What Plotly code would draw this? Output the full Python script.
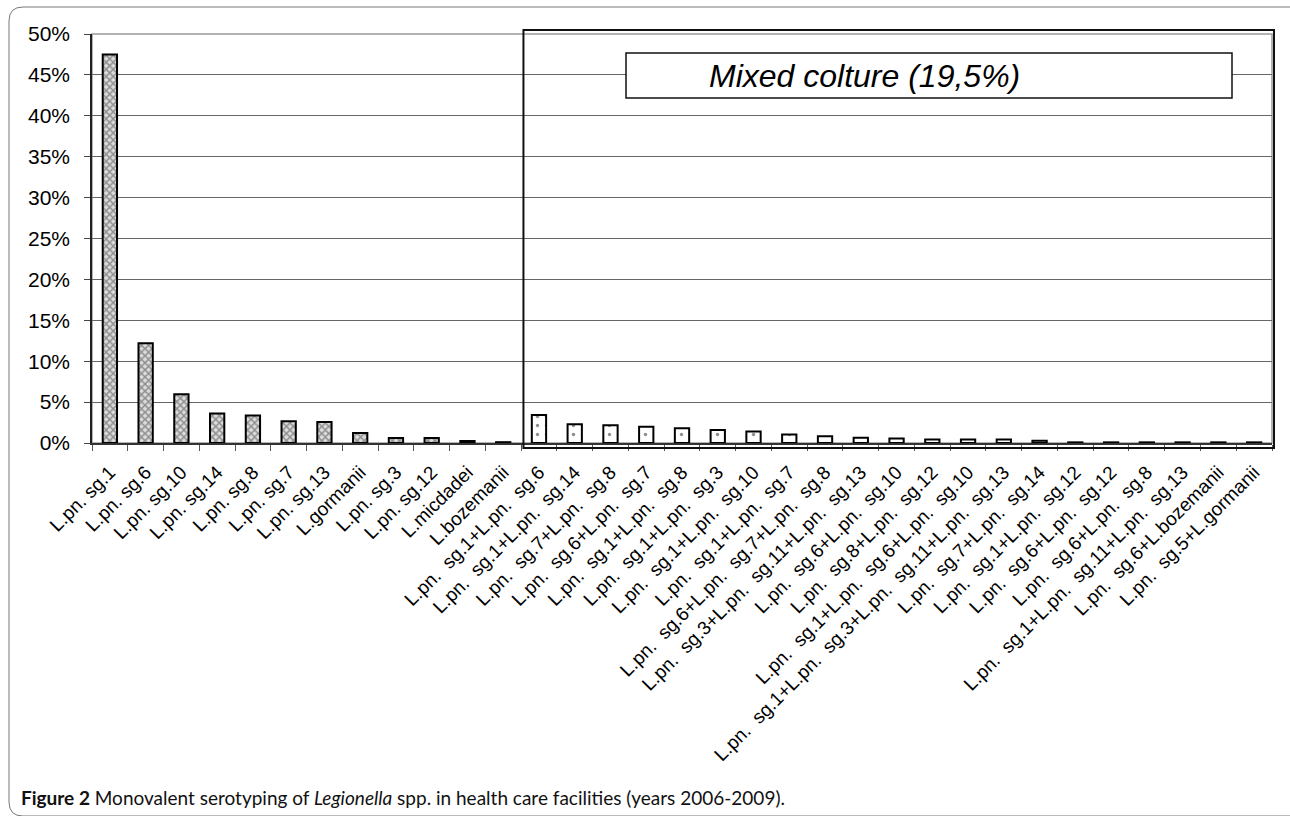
import plotly.graph_objects as go

# ---- data ----
mono_labels = ["L.pn. sg.1", "L.pn. sg.6", "L.pn. sg.10", "L.pn. sg.14", "L.pn. sg.8",
               "L.pn. sg.7", "L.pn. sg.13", "L.gormanii", "L.pn. sg.3", "L.pn. sg.12",
               "L.micdadei", "L.bozemanii"]
mono_values = [47.5, 12.2, 5.95, 3.6, 3.35, 2.65, 2.57, 1.22, 0.6, 0.6, 0.25, 0.1]

mixed_labels = ["L.pn. sg.1+L.pn. sg.6", "L.pn. sg.1+L.pn. sg.14", "L.pn. sg.7+L.pn. sg.8",
                "L.pn. sg.6+L.pn. sg.7", "L.pn. sg.1+L.pn. sg.8", "L.pn. sg.1+L.pn. sg.3",
                "L.pn. sg.1+L.pn. sg.10", "L.pn. sg.1+L.pn. sg.7",
                "L.pn. sg.6+L.pn. sg.7+L.pn. sg.8", "L.pn. sg.3+L.pn. sg.11+L.pn. sg.13",
                "L.pn. sg.6+L.pn. sg.10", "L.pn. sg.8+L.pn. sg.12",
                "L.pn. sg.1+L.pn. sg.6+L.pn. sg.10",
                "L.pn. sg.1+L.pn. sg.3+L.pn. sg.11+L.pn. sg.13",
                "L.pn. sg.7+L.pn. sg.14", "L.pn. sg.1+L.pn. sg.12", "L.pn. sg.6+L.pn. sg.12",
                "L.pn. sg.6+L.pn. sg.8", "L.pn. sg.1+L.pn. sg.11+L.pn. sg.13",
                "L.pn. sg.6+L.bozemanii", "L.pn. sg.5+L.gormanii"]
mixed_values = [3.42, 2.29, 2.17, 2.0, 1.79, 1.58, 1.42, 1.04, 0.83, 0.63, 0.54,
                0.42, 0.42, 0.42, 0.29, 0.08, 0.08, 0.08, 0.08, 0.08, 0.08]

y_ticks = [0, 5, 10, 15, 20, 25, 30, 35, 40, 45, 50]
mixed_title = "Mixed colture (19,5%)"
caption = ("<b>Figure 2</b> Monovalent serotyping of <i>Legionella</i> spp. "
           "in health care facilities (years 2006-2009).")

all_labels = mono_labels + mixed_labels
n_cat = len(all_labels)
# mixed labels are shown with a wider gap before "sg."
tick_text = mono_labels + [s.replace(". sg", ".\u00a0\u00a0sg") for s in mixed_labels]

# ---- geometry (pixels) ----
W, H = 1290, 816
L, R, T, B = 92, 18, 34, 373
PW, PH = W - L - R, H - T - B


def px(xp):
    return (xp - L) / PW


def py(yp):
    return (H - B - yp) / PH


fig = go.Figure()
fig.add_trace(go.Bar(
    x=mono_labels, y=mono_values, width=0.4,
    marker=dict(color="white", line=dict(color="black", width=2),
                pattern=dict(shape="x", fgcolor="#444444", bgcolor="#dcdcdc",
                             size=5, solidity=0.5)),
    showlegend=False))
fig.add_trace(go.Bar(
    x=mixed_labels, y=mixed_values, width=0.4,
    marker=dict(color="white", line=dict(color="black", width=2),
                pattern=dict(shape=".", fgcolor="#222222", bgcolor="white",
                             size=9, solidity=0.12)),
    showlegend=False))

shapes = []
# plot-area border (gray)
shapes.append(dict(type="rect", xref="paper", yref="paper", x0=0, x1=1, y0=0, y1=1,
                   line=dict(color="#9a9a9a", width=1.5), layer="below"))
# mixed culture box
bx0 = len(mono_labels) / n_cat
shapes.append(dict(type="rect", xref="paper", yref="paper",
                   x0=bx0 + 0.002, x1=px(1274), y0=py(448), y1=py(30),
                   line=dict(color="#111111", width=2), fillcolor="rgba(0,0,0,0)"))
# title box inside
shapes.append(dict(type="rect", xref="paper", yref="paper",
                   x0=px(626), x1=px(1232), y0=py(98), y1=py(53),
                   line=dict(color="#111111", width=1.5), fillcolor="white"))
# outer rounded frame
x0, x1, y0, y1, r = px(9), px(1310), py(7), py(816), 14
rx, ry = r / PW, r / PH
path = (f"M {x1},{y0} L {x0+rx},{y0} Q {x0},{y0} {x0},{y0-ry} "
        f"L {x0},{y1+ry} Q {x0},{y1} {x0+rx},{y1} L {x1},{y1}")
shapes.append(dict(type="path", xref="paper", yref="paper", path=path,
                   line=dict(color="#777777", width=1)))

annotations = [
    dict(xref="paper", yref="paper", x=px(707), y=(py(98) + py(53)) / 2,
         text=f"<i>{mixed_title}</i>", showarrow=False, xanchor="left", yanchor="middle",
         font=dict(family="Liberation Sans, Arial", size=32, color="black")),
    dict(xref="paper", yref="paper", x=px(19), y=py(797), text=caption, showarrow=False,
         xanchor="left", yanchor="middle",
         font=dict(family="Lato, Open Sans", size=19, color="#111111")),
]

fig.update_layout(
    width=W, height=H, margin=dict(l=L, r=R, t=T, b=B),
    paper_bgcolor="white", plot_bgcolor="white", barmode="overlay",
    shapes=shapes, annotations=annotations,
    font=dict(family="Liberation Sans, Arial", color="black"),
)
fig.update_xaxes(
    type="category", categoryorder="array", categoryarray=all_labels,
    tickvals=all_labels, ticktext=tick_text,
    tickangle=-45, tickfont=dict(size=19, family="Liberation Sans, Arial", color="black"),
    showline=True, linecolor="#333333", linewidth=1.5,
    ticks="outside", ticklen=6, tickcolor="#555555", tickson="boundaries",
    showgrid=False, ticklabelstandoff=9, range=[-0.5, n_cat - 0.5],
)
fig.update_yaxes(
    range=[0, 50], tickvals=y_ticks, ticktext=[f"{v}%" for v in y_ticks],
    tickfont=dict(size=21, family="Liberation Sans, Arial", color="black"),
    showline=True, linecolor="#222222", linewidth=1.5,
    ticks="outside", ticklen=6, tickcolor="#444444", ticklabelstandoff=10,
    showgrid=True, gridcolor="#666666", gridwidth=1, zeroline=False,
)

fig.write_html("out.html", config={"displayModeBar": False},
               post_script="document.body.style.margin='0';document.body.style.overflow='hidden';")
